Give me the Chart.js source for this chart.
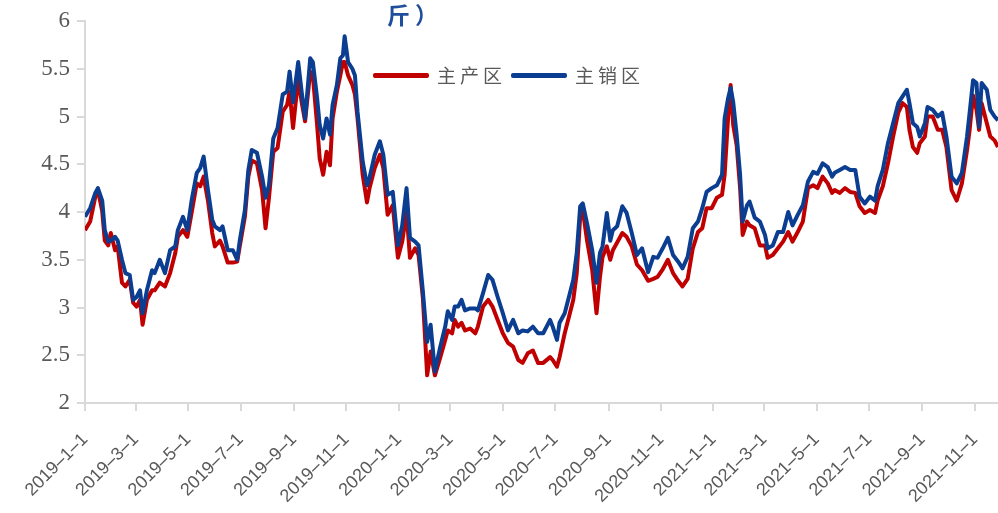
<!DOCTYPE html>
<html>
<head>
<meta charset="utf-8">
<script src="https://cdn.jsdelivr.net/npm/chart.js@4.4.0/dist/chart.umd.min.js"></script>
<style>
html, body { margin: 0; padding: 0; background: #fff; }
#wrap { position: relative; width: 998px; height: 513px; overflow: hidden; }
#title { position: absolute; left: 387px; top: 1px; font: bold 23px "Noto Sans CJK SC"; color: #1f4e9c; line-height: 26px; letter-spacing: 5px; }
#legend { position: absolute; left: 373px; top: 62px; display: flex; align-items: center; font: 19px "Noto Sans CJK SC"; color: #595959; letter-spacing: 4px; line-height: 26px; }
.item { display: flex; align-items: center; margin-right: 5px; }
.swatch { width: 56px; height: 5px; margin-right: 8px; border-radius: 2px; }
</style>
</head>
<body>
<div id="wrap">
  <canvas id="chart" width="998" height="513"></canvas>
  <div id="title">斤）</div>
  <div id="legend"></div>
</div>
<script>
// 日期
const dates = [
  '2019-01-01','2019-01-07','2019-01-13','2019-01-16','2019-01-21','2019-01-24','2019-01-28','2019-01-31',
  '2019-02-05','2019-02-08','2019-02-13','2019-02-17','2019-02-22','2019-02-26',
  '2019-03-02','2019-03-06','2019-03-09','2019-03-14','2019-03-20','2019-03-23','2019-03-29',
  '2019-04-04','2019-04-10','2019-04-16','2019-04-19','2019-04-25','2019-04-30',
  '2019-05-05','2019-05-11','2019-05-15','2019-05-19','2019-05-24','2019-05-29',
  '2019-06-01','2019-06-07','2019-06-10','2019-06-16','2019-06-22','2019-06-27','2019-06-30',
  '2019-07-06','2019-07-10','2019-07-14','2019-07-20','2019-07-26','2019-07-30',
  '2019-08-03','2019-08-08','2019-08-13','2019-08-19','2019-08-24','2019-08-27','2019-08-31',
  '2019-09-06','2019-09-10','2019-09-14','2019-09-20','2019-09-23','2019-09-28',
  '2019-10-01','2019-10-05','2019-10-09','2019-10-13','2019-10-16','2019-10-21','2019-10-25','2019-10-28','2019-10-30',
  '2019-11-03','2019-11-08','2019-11-11','2019-11-14','2019-11-20','2019-11-25','2019-11-28',
  '2019-12-04','2019-12-10','2019-12-14','2019-12-19','2019-12-25','2019-12-31',
  '2020-01-05','2020-01-10','2020-01-14','2020-01-20','2020-01-24','2020-01-29',
  '2020-02-03','2020-02-07','2020-02-12','2020-02-18','2020-02-24','2020-02-27',
  '2020-03-03','2020-03-06','2020-03-10','2020-03-14','2020-03-18','2020-03-24','2020-03-30',
  '2020-04-02','2020-04-08','2020-04-14','2020-04-19','2020-04-25',
  '2020-05-01','2020-05-07','2020-05-13','2020-05-19','2020-05-24','2020-05-30',
  '2020-06-05','2020-06-11','2020-06-17','2020-06-25','2020-06-28',
  '2020-07-03','2020-07-06','2020-07-12','2020-07-18','2020-07-22','2020-07-26','2020-07-30',
  '2020-08-02','2020-08-07','2020-08-13','2020-08-18','2020-08-22','2020-08-25','2020-08-30',
  '2020-09-03','2020-09-06','2020-09-11','2020-09-17','2020-09-22','2020-09-28',
  '2020-10-04','2020-10-10','2020-10-17','2020-10-23','2020-10-28',
  '2020-11-03','2020-11-09','2020-11-15','2020-11-21','2020-11-26',
  '2020-12-02','2020-12-08','2020-12-14','2020-12-19','2020-12-24','2020-12-30',
  '2021-01-05','2021-01-11','2021-01-14','2021-01-18','2021-01-21','2021-01-24','2021-01-28',
  '2021-02-01','2021-02-04','2021-02-09','2021-02-12','2021-02-18','2021-02-24',
  '2021-03-02','2021-03-05','2021-03-11','2021-03-17','2021-03-23','2021-03-29',
  '2021-04-03','2021-04-09','2021-04-15','2021-04-21','2021-04-27',
  '2021-05-02','2021-05-08','2021-05-14','2021-05-19','2021-05-22','2021-05-28',
  '2021-06-03','2021-06-09','2021-06-15','2021-06-20','2021-06-26',
  '2021-07-02','2021-07-08','2021-07-11','2021-07-17','2021-07-23','2021-07-29',
  '2021-08-04','2021-08-09','2021-08-14','2021-08-17','2021-08-21','2021-08-26','2021-08-29',
  '2021-09-04','2021-09-07','2021-09-13','2021-09-19','2021-09-24','2021-09-29',
  '2021-10-05','2021-10-11','2021-10-17','2021-10-23','2021-10-26','2021-10-30',
  '2021-11-03','2021-11-06','2021-11-09','2021-11-15','2021-11-19','2021-11-24','2021-11-28'
];

// 主产区
const mainProd = [
  3.81,3.90,4.16,4.23,4.01,3.70,3.65,3.78, 3.60,3.64,3.26,3.22,3.29,3.05,
  3.01,3.08,2.82,3.08,3.18,3.18,3.26, 3.22,3.36,3.57,3.74,3.81,3.74,
  3.99,4.30,4.27,4.37,4.12,3.78, 3.64,3.70,3.64,3.47,3.47,3.48,3.64,
  3.95,4.37,4.54,4.51,4.23,3.83, 4.15,4.63,4.67,5.05,5.12,5.26,4.88,
  5.40,5.15,4.95,5.47,5.43,4.91, 4.56,4.39,4.63,4.49,4.98,5.26,5.43,5.57,5.57,
  5.43,5.33,5.23,4.98,4.39,4.10,4.25, 4.46,4.60,4.46,3.97,4.07,3.52,
  3.69,4.00,3.52,3.62,3.55,3.10, 2.29,2.54,2.29,2.47,2.66,2.76,
  2.73,2.87,2.80,2.84,2.76,2.78,2.73, 2.80,3.01,3.08,3.01,2.87,
  2.73,2.63,2.59,2.45,2.42,2.52, 2.55,2.42,2.42,2.48,2.45,
  2.38,2.48,2.73,2.94,3.08,3.36,3.95, 4.02,3.70,3.39,2.94,3.32,3.53,3.64,
  3.50,3.60,3.68,3.78,3.74,3.64, 3.45,3.39,3.28,3.30,3.32,
  3.40,3.50,3.36,3.28,3.22, 3.30,3.62,3.79,3.83,4.04,4.04,
  4.15,4.18,4.39,4.98,5.33,4.91,4.70, 4.25,3.76,3.90,3.86,3.83,3.65,
  3.65,3.52,3.55,3.62,3.69,3.79, 3.69,3.79,3.90,4.25,4.28,
  4.25,4.37,4.30,4.20,4.23,4.20, 4.25,4.21,4.20,4.06,3.99,
  4.02,3.99,4.12,4.27,4.51,4.79, 5.04,5.14,5.10,4.86,4.68,4.62,4.72,
  4.79,5.00,5.00,4.86,4.86,4.68, 4.23,4.12,4.30,4.65,4.86,5.22,
  5.07,4.86,5.14,4.93,4.79,4.75,4.68
];

// 主销区
const mainSales = [
  3.95,4.04,4.20,4.25,4.12,3.81,3.69,3.70, 3.74,3.70,3.50,3.36,3.34,3.08,
  3.11,3.18,2.94,3.18,3.39,3.36,3.50, 3.36,3.60,3.64,3.81,3.95,3.81,
  4.12,4.41,4.46,4.58,4.23,3.92, 3.85,3.81,3.85,3.60,3.60,3.50,3.70,
  4.02,4.44,4.65,4.62,4.37,4.15, 4.28,4.77,4.88,5.23,5.26,5.47,5.15,
  5.57,5.26,4.98,5.61,5.57,5.19, 4.91,4.77,4.98,4.81,5.12,5.33,5.61,5.64,5.84,
  5.57,5.50,5.43,5.05,4.53,4.28,4.36, 4.60,4.74,4.60,4.18,4.21,3.65,
  3.86,4.25,3.73,3.69,3.65,3.17, 2.64,2.82,2.33,2.58,2.80,2.96,
  2.87,3.01,3.01,3.08,2.97,2.99,2.99, 2.97,3.15,3.34,3.29,3.11,
  2.94,2.76,2.87,2.73,2.76,2.75, 2.80,2.73,2.73,2.87,2.80,
  2.66,2.84,2.94,3.15,3.29,3.57,4.06, 4.09,3.88,3.60,3.26,3.57,3.64,3.99,
  3.70,3.81,3.85,4.06,3.99,3.78, 3.55,3.62,3.37,3.53,3.52,
  3.62,3.73,3.55,3.48,3.41, 3.53,3.83,3.90,4.04,4.21,4.25,
  4.28,4.39,4.98,5.19,5.30,5.15,4.81, 4.39,3.90,4.07,4.11,3.94,3.90,
  3.76,3.62,3.65,3.79,3.79,4.00, 3.86,3.97,4.07,4.32,4.42,
  4.40,4.51,4.47,4.37,4.41,4.44, 4.47,4.44,4.44,4.16,4.09,
  4.16,4.12,4.27,4.44,4.72,4.93, 5.14,5.21,5.28,5.14,4.93,4.89,4.79,
  4.93,5.10,5.07,5.00,5.04,4.79, 4.37,4.30,4.41,4.79,5.04,5.38,
  5.35,4.89,5.35,5.28,5.07,5.00,4.96
];

const seriesNames = ['主产区', '主销区'];
const seriesColors = ['#c00000', '#0b3d91'];
const tickDates = ['2019-1-1','2019-3-1','2019-5-1','2019-7-1','2019-9-1','2019-11-1',
  '2020-1-1','2020-3-1','2020-5-1','2020-7-1','2020-9-1','2020-11-1',
  '2021-1-1','2021-3-1','2021-5-1','2021-7-1','2021-9-1','2021-11-1'];
const yTicks = [2, 2.5, 3, 3.5, 4, 4.5, 5, 5.5, 6];

// 日期 -> 距 2019-1-1 的天数
function dayNum(s) {
  const p = s.split('-').map(Number);
  return (Date.UTC(p[0], p[1] - 1, p[2]) - Date.UTC(2019, 0, 1)) / 86400000;
}
const toPoints = vals => vals.map((v, i) => ({ x: dayNum(dates[i]), y: v }));

// 图例
const legend = document.getElementById('legend');
seriesNames.forEach((name, i) => {
  const item = document.createElement('div');
  item.className = 'item';
  item.innerHTML = `<span class="swatch" style="background:${seriesColors[i]}"></span><span>${name}</span>`;
  legend.appendChild(item);
});

const axisColor = '#d9d9d9';
const tickColor = '#595959';

new Chart(document.getElementById('chart').getContext('2d'), {
  type: 'line',
  data: {
    datasets: [
      { label: seriesNames[0], data: toPoints(mainProd), borderColor: seriesColors[0], order: 2 },
      { label: seriesNames[1], data: toPoints(mainSales), borderColor: seriesColors[1], order: 1 }
    ]
  },
  options: {
    responsive: false,
    animation: false,
    devicePixelRatio: 1,
    layout: { padding: { top: 21, right: 0, bottom: 0, left: 0 } },
    elements: {
      line: { borderWidth: 4, tension: 0, borderJoinStyle: 'round', fill: false },
      point: { radius: 0, hoverRadius: 0 }
    },
    plugins: { legend: { display: false }, tooltip: { enabled: false } },
    scales: {
      x: {
        type: 'linear',
        min: 0,
        max: dayNum(dates[dates.length - 1]),
        afterBuildTicks: s => { s.ticks = tickDates.map(d => ({ value: dayNum(d) })); },
        afterFit: s => { s.height = 110; s.paddingLeft = 0; s.paddingRight = 0; },
        grid: { drawOnChartArea: false, drawTicks: true, tickLength: 8, color: axisColor, lineWidth: 2 },
        border: { color: axisColor, width: 2 },
        ticks: {
          autoSkip: false, minRotation: 45, maxRotation: 45, padding: 18,
          color: tickColor, font: { family: 'Liberation Sans', size: 18 },
          callback: (v, i) => tickDates[i].replace(/-/g, '–')
        }
      },
      y: {
        min: 2, max: 6,
        afterBuildTicks: s => { s.ticks = yTicks.map(v => ({ value: v })); },
        afterFit: s => { s.width = 85; s.paddingTop = 0; s.paddingBottom = 0; },
        grid: { drawOnChartArea: false, drawTicks: true, tickLength: 8, color: axisColor, lineWidth: 2 },
        border: { color: axisColor, width: 2 },
        ticks: {
          padding: 7, color: tickColor, font: { family: 'Liberation Serif', size: 23 },
          callback: v => String(v)
        }
      }
    }
  }
});
</script>
</body>
</html>
